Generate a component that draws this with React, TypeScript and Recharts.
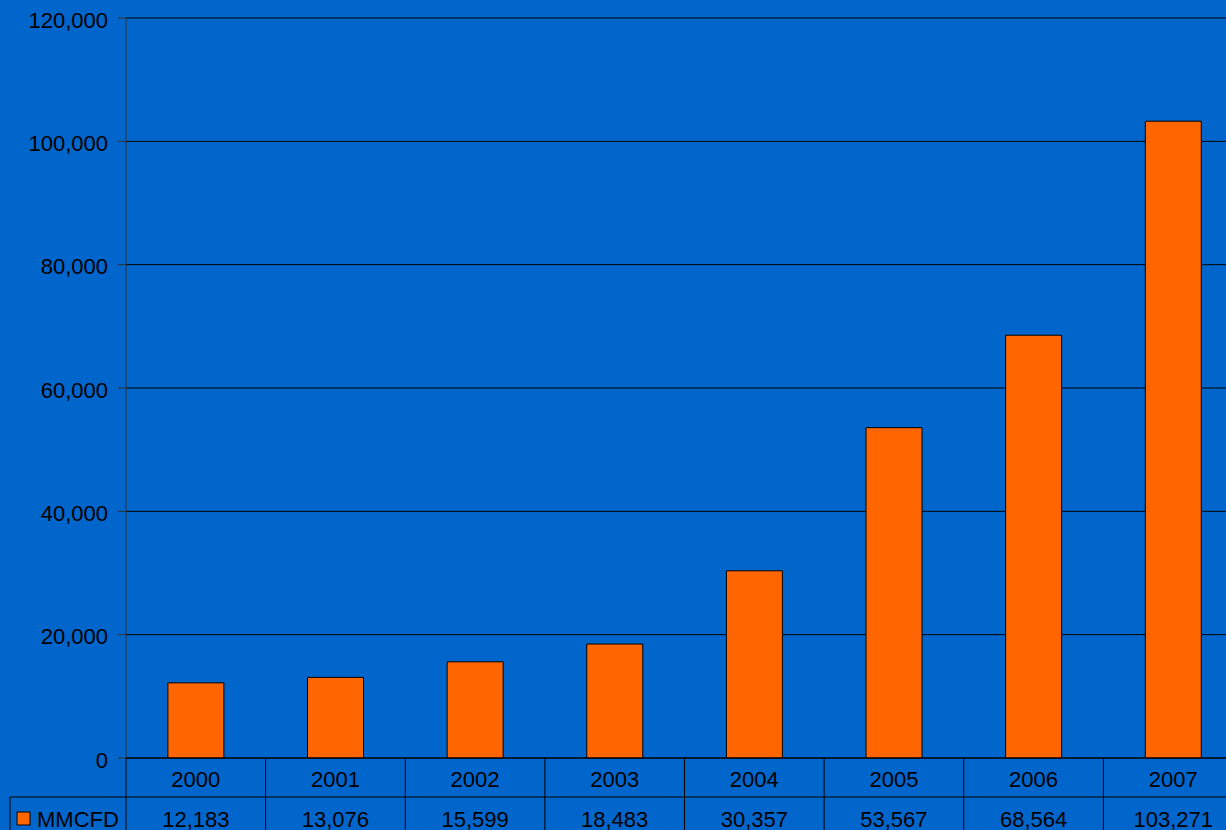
import { Bar, BarChart, CartesianGrid, XAxis, YAxis } from "recharts";

const years = ["2000", "2001", "2002", "2003", "2004", "2005", "2006", "2007"];
const mmcfd = [12183, 13076, 15599, 18483, 30357, 53567, 68564, 103271];
const yTicks = [0, 20000, 40000, 60000, 80000, 100000, 120000];
const seriesName = "MMCFD";

const data = years.map((year, i) => ({ year, mmcfd: mmcfd[i] }));

const CHART_W = 1243;
const CHART_H = 850;
const AXIS_W = 126;
const PLOT_TOP = 18;
const PLOT_H = 740;
const ROW_H = 39;
const FS = 22;
const FONT = "'Liberation Sans', Arial, Helvetica, sans-serif";
const fmt = (v: number) => v.toLocaleString("en-US");

// x-axis tick doubles as the data table below the plot
const TableTick = (props: any) => {
  const { x, y, payload, index } = props;
  const band = (CHART_W - AXIS_W) / years.length;
  const left = x - band / 2;
  return (
    <g>
      <line x1={left} y1={y} x2={left} y2={y + ROW_H * 3} stroke="#000" />
      <text x={x} y={y + 21} textAnchor="middle" dominantBaseline="central" fontSize={FS} fill="#000">
        {payload.value}
      </text>
      <text x={x} y={y + ROW_H + 22} textAnchor="middle" dominantBaseline="central" fontSize={FS} fill="#000">
        {fmt(mmcfd[index])}
      </text>
      {index === 0 && (
        <g>
          <line x1={10} y1={y + ROW_H} x2={left + band * years.length} y2={y + ROW_H} stroke="#000" />
          <line x1={10} y1={y + ROW_H} x2={10} y2={y + ROW_H * 3} stroke="#000" />
          <rect x={17} y={y + 54} width={13} height={13} fill="#FF6600" stroke="#000" />
          <text x={37} y={y + ROW_H + 22} textAnchor="start" dominantBaseline="central" fontSize={FS} fill="#000">
            {seriesName}
          </text>
        </g>
      )}
    </g>
  );
};

export default function App() {
  return (
    <div
      style={{
        position: "fixed",
        left: 0,
        top: 0,
        width: 1226,
        height: 830,
        overflow: "hidden",
        background: "#0066CC",
        fontFamily: FONT,
      }}
    >
      <BarChart
        width={CHART_W}
        height={CHART_H}
        data={data}
        margin={{ top: PLOT_TOP, right: 0, left: 0, bottom: 0 }}
        barCategoryGap="30%"
        style={{ fontFamily: FONT }}
      >
        <CartesianGrid horizontal vertical={false} stroke="#000" strokeOpacity={1} />
        <XAxis
          dataKey="year"
          height={CHART_H - PLOT_TOP - PLOT_H}
          interval={0}
          tickSize={0}
          tickMargin={0}
          axisLine={{ stroke: "#000" }}
          tickLine={false}
          tick={<TableTick />}
        />
        <YAxis
          width={AXIS_W}
          domain={[0, 120000]}
          ticks={yTicks}
          interval={0}
          tickFormatter={fmt}
          tickSize={8}
          tickMargin={10}
          axisLine={{ stroke: "#333" }}
          tickLine={{ stroke: "#333" }}
          tick={{ fill: "#000", fontSize: FS, dy: 2 }}
        />
        <Bar dataKey="mmcfd" name={seriesName} fill="#FF6600" stroke="#000" strokeWidth={1} isAnimationActive={false} />
      </BarChart>
    </div>
  );
}
